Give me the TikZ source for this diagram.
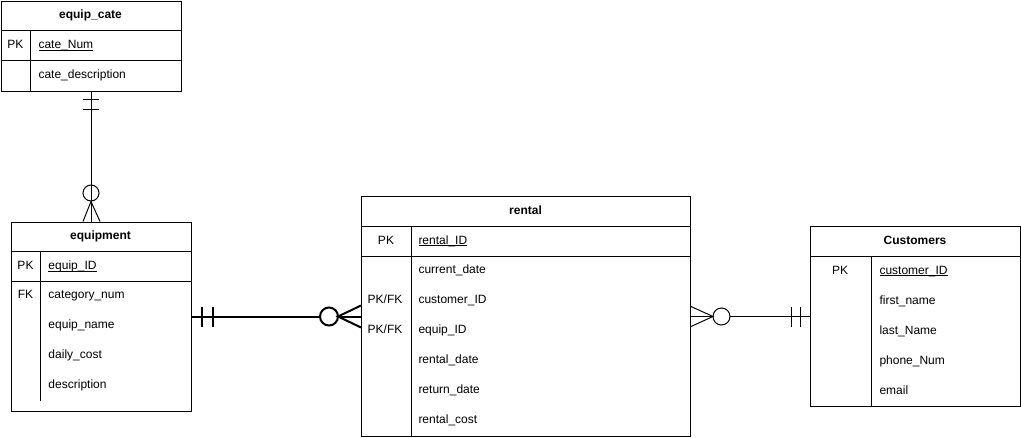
\documentclass[tikz,border=0pt]{standalone}
\usepackage{fontspec}
\setmainfont{Liberation Sans}
\usetikzlibrary{positioning,calc}

\tikzset{
  tbl/.style={draw,rectangle,anchor=north west,inner sep=0pt},
  head/.style={font=\fontsize{12}{14}\selectfont\bfseries,inner sep=0pt,text height=9pt,text depth=3pt},
  key/.style={font=\fontsize{12}{14}\selectfont,inner sep=0pt,text height=9pt,text depth=3pt},
  field/.style={font=\fontsize{12}{14}\selectfont,anchor=west,inner sep=0pt,text height=9pt,text depth=3pt}
}
\newcommand{\pkline}[1]{\underline{\smash{#1}}}

\begin{document}
\begin{tikzpicture}[x=1pt,y=-1pt,line width=1pt]
\useasboundingbox (0,0) rectangle (1021,437);

% equip_cate
\node[tbl,minimum width=180pt,minimum height=90pt] (cate) at (0.5,0.5) {};
\draw (0.5,30.5) -- (180.5,30.5) (0.5,60.5) -- (180.5,60.5) (30.5,30.5) -- (30.5,90.5);
\node[head] (catetitle) at (90.5,15.5) {equip\_cate};
\node[key] (catepk) at (15.5,45.5) {PK};
\node[field] (catenum) at (38,45.5) {\pkline{cate\_Num}};
\node[field] (catedesc) at (38,75.5) {cate\_description};

% equipment
\node[tbl,minimum width=180pt,minimum height=189pt] (equip) at (10.5,221.5) {};
\draw (10.5,251.5) -- (190.5,251.5) (10.5,281.5) -- (190.5,281.5) (40.5,251.5) -- (40.5,400.5);
\node[head] (equiptitle) at (100.5,236.5) {equipment};
\node[key] (equippk) at (25.5,266.5) {PK};
\node[field] (equipid) at (48,266.5) {\pkline{equip\_ID}};
\node[key] (equipfk) at (25.5,295.5) {FK};
\foreach \f [count=\i] in {category\_num,equip\_name,daily\_cost,description}
  \node[field] (equipf\i) at (48,265.5+30*\i) {\f};

% rental
\node[tbl,minimum width=329pt,minimum height=240pt] (rental) at (361,196) {};
\draw (361,226) -- (690,226) (361,256) -- (690,256) (411,226) -- (411,436);
\node[head] (rentaltitle) at (525.5,211) {rental};
\node[key] (rentalpk) at (386,241) {PK};
\node[field] (rentalid) at (418,241) {\pkline{rental\_ID}};
\node[key] (rentalfka) at (385,300) {PK/FK};
\node[key] (rentalfkb) at (385,330) {PK/FK};
\foreach \f [count=\i] in {current\_date,customer\_ID,equip\_ID,rental\_date,return\_date,rental\_cost}
  \node[field] (rentalf\i) at (418,240+30*\i) {\f};

% Customers
\node[tbl,minimum width=210pt,minimum height=180pt] (cust) at (810,226) {};
\draw (810,256) -- (1020,256) (871,256) -- (871,406);
\node[head] (custtitle) at (915,241) {Customers};
\node[key] (custpk) at (840,271) {PK};
\node[field] (custid) at (879,271) {\pkline{customer\_ID}};
\foreach \f [count=\i] in {first\_name,last\_Name,phone\_Num,email}
  \node[field] (custf\i) at (879,271+30*\i) {\f};

% equip_cate -- equipment
\draw (cate.south) -- (cate.south |- equip.north);
\draw ($(cate.south)+(-8,8)$) -- ++(16,0) ($(cate.south)+(-8,18)$) -- ++(16,0);
\draw ($(cate.south)+(0,101.5)$) circle (8);
\draw ($(cate.south |- equip.north)+(-8,0)$) -- ($(cate.south)+(0,110)$) -- ($(cate.south |- equip.north)+(9,0)$);

% equipment -- rental
\draw[line width=2pt] (equip.east) -- (equip.east -| rental.west);
\draw[line width=2pt] ($(equip.east)+(10,-10)$) -- ++(0,20) ($(equip.east)+(21,-10)$) -- ++(0,20);
\draw[line width=2pt,fill=white] ($(rental.west)+(-32,0)$) circle (9);
\draw[line width=2pt] ($(rental.west)+(0,-11)$) -- ($(rental.west)+(-23,0)$) -- ($(rental.west)+(0,11)$);

% rental -- Customers
\draw ($(rental.east)+(39,0)$) -- (cust.west);
\draw ($(rental.east)+(22,0)$) -- (rental.east);
\draw ($(rental.east)+(0,-10)$) -- ($(rental.east)+(22,0)$) -- ($(rental.east)+(0,10)$);
\draw ($(rental.east)+(30.5,0)$) circle (8.5);
\draw ($(cust.west)+(-19,-10)$) -- ++(0,20) ($(cust.west)+(-10,-10)$) -- ++(0,20);
\end{tikzpicture}
\end{document}
